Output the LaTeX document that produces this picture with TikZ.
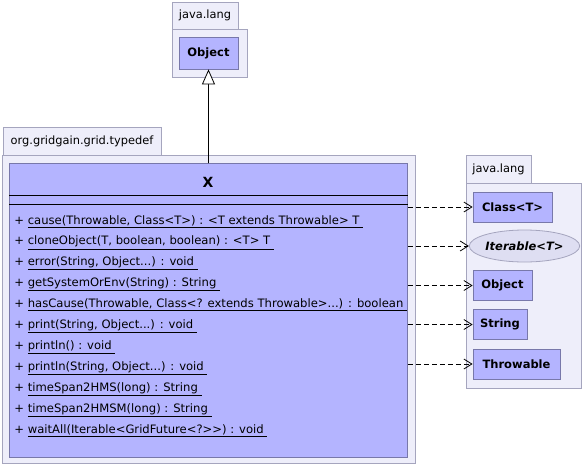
\documentclass[tikz,border=0pt]{standalone}
\usepackage{fontspec}
\setmainfont{DejaVu Sans}
\usetikzlibrary{arrows.meta, positioning, shapes.geometric}

\definecolor{classfill}{RGB}{180,180,255}
\definecolor{classline}{RGB}{120,120,170}
\definecolor{pkgfill}{RGB}{238,238,250}
\definecolor{pkgline}{RGB}{165,165,190}
\definecolor{ifacefill}{RGB}{222,222,242}
\newcommand{\varg}{...}

\begin{document}
\begin{tikzpicture}[x=1pt, y=-1pt, line width=0.8pt,
    pkg/.style={draw=pkgline, fill=pkgfill},
    pkglabel/.style={font=\fontsize{11.4}{13}\selectfont},
    cls/.style={draw=classline, fill=classfill, font=\bfseries\fontsize{11.5}{13}\selectfont, minimum height=30pt, inner sep=0pt},
    method/.style={anchor=base west, inner sep=0pt, font=\fontsize{11.6}{13}\selectfont},
    dep/.style={dash pattern=on 5pt off 3pt, -{Straight Barb[length=8pt, width=10pt]}}]
    \useasboundingbox (0,0) rectangle (584,466);
    % java.lang (top)
    \draw[pkg] (172,2) rectangle (238,29);
    \draw[pkg] (172,29) rectangle (247,77);
    \node[pkglabel] (toplang) at (205,15.5) {java.lang};
    \node[cls, minimum width=59pt, minimum height=32pt] (obj) at (208.5,53) {Object};
    % org.gridgain.grid.typedef
    \draw[pkg] (3,127) rectangle (161,155);
    \draw[pkg] (2,155) rectangle (415,463);
    \node[pkglabel] (typedef) at (82,141) {org.gridgain.grid.typedef};
    \node[cls, anchor=north west, minimum width=398pt, minimum height=294pt] (X) at (9,163) {};
    \node[font=\bfseries\fontsize{14}{16}\selectfont] (xname) at (208,182) {X};
    \draw ([yshift=-32pt]X.north west) -- ([yshift=-32pt]X.north east);
    \draw ([yshift=-41pt]X.north west) -- ([yshift=-41pt]X.north east);
    \foreach \m [count=\i from 0] in {
        {cause(Throwable, Class<T>) : <T extends Throwable> T},
        {cloneObject(T, boolean, boolean) : <T> T},
        {error(String, Object\varg) : void},
        {getSystemOrEnv(String) : String},
        {hasCause(Throwable, Class<? extends Throwable>\varg) : boolean},
        {print(String, Object\varg) : void},
        {println() : void},
        {println(String, Object\varg) : void},
        {timeSpan2HMS(long) : String},
        {timeSpan2HMSM(long) : String},
        {waitAll(Iterable<GridFuture<?>{}>) : void}}
        \node[method] (m\i) at (14,224+20.9*\i) {+ \underline{\m\ }};
    % java.lang (right)
    \draw[pkg] (466,155) rectangle (531,183);
    \draw[pkg] (466,183) rectangle (581,388);
    \node[pkglabel] (rightlang) at (498.5,169) {java.lang};
    \node[cls, minimum width=79pt] (cls) at (512.5,207) {Class<T>};
    \node[ellipse, draw=pkgline, fill=ifacefill, inner sep=0pt, minimum width=103pt, minimum height=32pt,
          font=\bfseries\itshape\fontsize{11.5}{13}\selectfont] (iter) at (524.5,246) {Iterable<T>};
    \node[cls, minimum width=59pt] (robj) at (502.5,285.5) {Object};
    \node[cls, minimum width=54pt] (str) at (500,324.5) {String};
    \node[cls, minimum width=87pt] (thr) at (516.5,364) {Throwable};
    % relations
    \draw[-{Triangle[open, fill=white, length=15pt, width=13pt]}] (X.north) -- (obj.south);
    \foreach \t in {cls, iter, robj, str, thr}
        \draw[dep] (X.east |- \t.west) -- (\t.west);
\end{tikzpicture}
\end{document}
